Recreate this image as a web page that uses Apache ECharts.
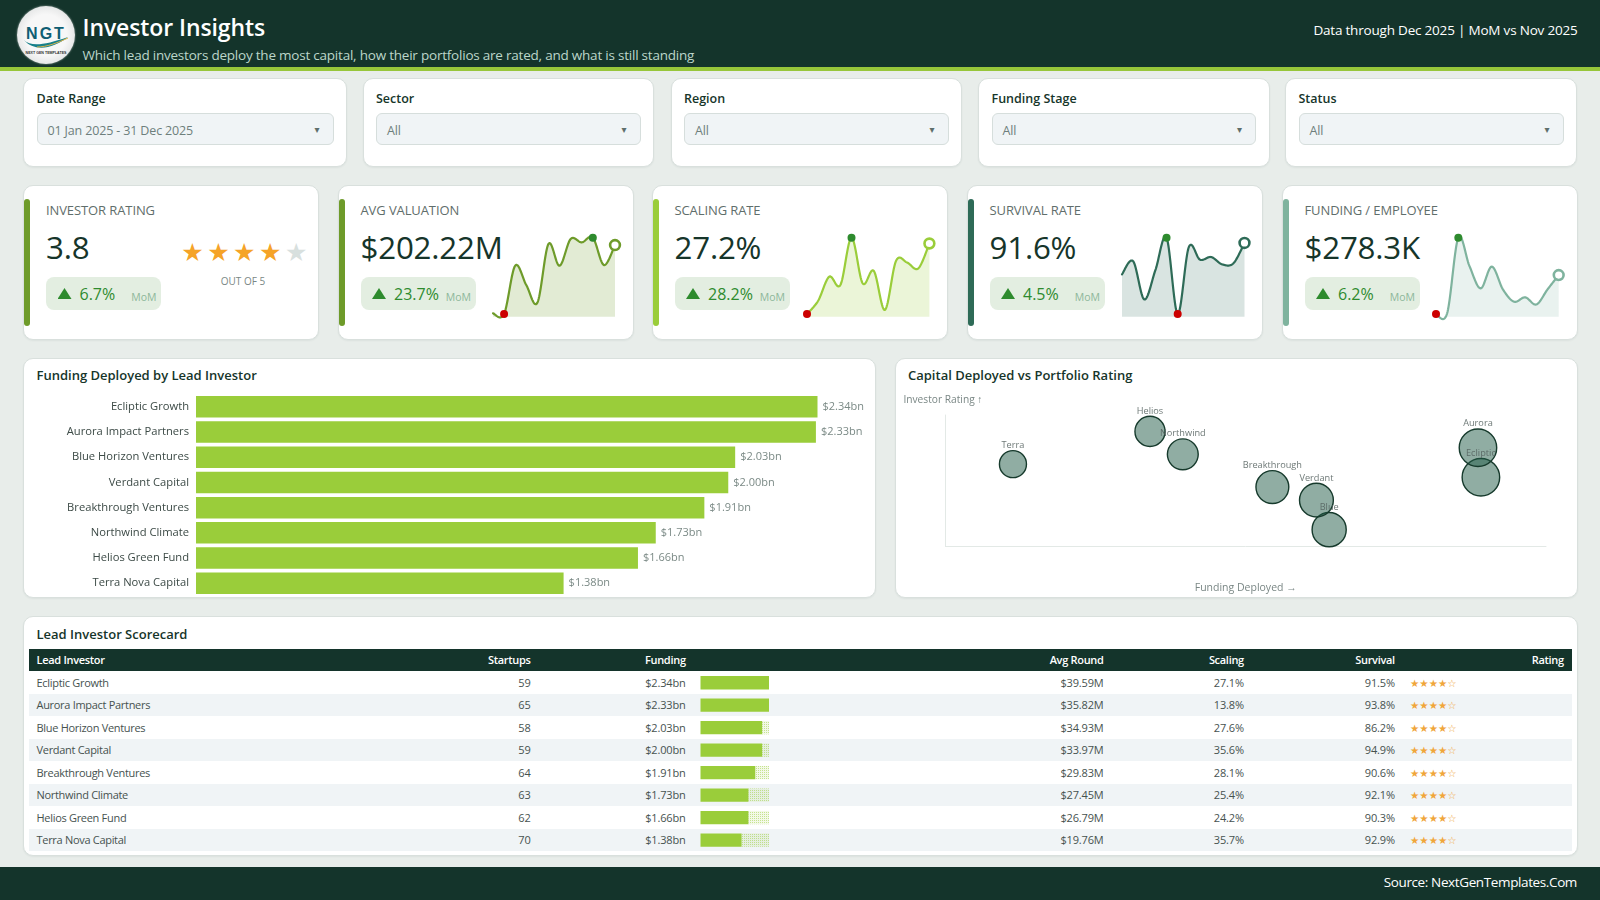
<!DOCTYPE html>
<html><head><meta charset="utf-8"><title>Investor Insights</title>
<script src="https://cdn.jsdelivr.net/npm/echarts@6/dist/echarts.min.js"></script>
<style>
html,body{margin:0;padding:0;background:#E8EDEA;width:1600px;height:900px;overflow:hidden;font-family:"Open Sans","Noto Sans",sans-serif;color:#16352A}
#page{position:relative;width:1600px;height:900px;overflow:hidden}
.box{position:absolute;box-sizing:border-box}
.card{background:#fff;border:1px solid #D9E0DD;border-radius:10px;box-shadow:0 1px 2px rgba(20,52,43,.06)}
.t{position:absolute;white-space:nowrap;transform:translateY(-50%);line-height:1.2}
.r{transform:translate(-100%,-50%)}
.c{transform:translate(-50%,-50%)}
#chart{position:absolute;left:0;top:0;width:1600px;height:900px;z-index:5;pointer-events:none}
</style></head><body><div id="page"></div><div id="chart"></div>
<script>
const investors=["Ecliptic Growth","Aurora Impact Partners","Blue Horizon Ventures","Verdant Capital","Breakthrough Ventures","Northwind Climate","Helios Green Fund","Terra Nova Capital"];
const shortNames=["Ecliptic","Aurora","Blue","Verdant","Breakthrough","Northwind","Helios","Terra"];
const fundingBn=[2.34,2.334,2.03,2.004,1.914,1.731,1.664,1.384];
const startups=[59,65,58,59,64,63,62,70];
const avgRoundM=[39.59,35.82,34.93,33.97,29.83,27.45,26.79,19.76];
const scalingPct=[27.1,13.8,27.6,35.6,28.1,25.4,24.2,35.7];
const survivalPct=[91.5,93.8,86.2,94.9,90.6,92.1,90.3,92.9];
const ratingPlot=[3.81,3.90,3.65,3.74,3.78,3.88,3.95,3.85];
const tableStars=["★★★★☆","★★★★☆","★★★★☆","★★★★☆","★★★★☆","★★★★☆","★★★★☆","★★★★☆"];
const months=["Jan","Feb","Mar","Apr","May","Jun","Jul","Aug","Sep","Oct","Nov","Dec"];
const sparkValuation=[70.0,68.7,162.2,124.8,90.6,204.2,162.2,213.8,207.4,216.4,163.5,202.2];
const sparkScaling=[10.2,13.4,19.2,17.2,28.6,17.6,20.6,11.2,23.0,22.6,21.2,27.2];
const sparkSurvival=[85.6,88.1,80.8,86.4,92.6,78.0,90.8,88.4,88.9,87.5,87.7,91.6];
const sparkFundingEmp=[234.1,235.0,320.6,288.5,263.2,287.8,262.0,248.1,253.0,245.0,262.0,278.3];
const kpiTitles=["INVESTOR RATING","AVG VALUATION","SCALING RATE","SURVIVAL RATE","FUNDING / EMPLOYEE"];
const kpiValues=["3.8","$202.22M","27.2%","91.6%","$278.3K"];
const kpiDeltas=["6.7%","23.7%","28.2%","4.5%","6.2%"];
const filterLabels=["Date Range","Sector","Region","Funding Stage","Status"];
const filterValues=["01 Jan 2025 - 31 Dec 2025","All","All","All","All"];
const tableHeaders=["Lead Investor","Startups","Funding","Avg Round","Scaling","Survival","Rating"];
const ratingStarsFilled=4;

const page=document.getElementById('page');
function box(x,y,w,h,css,cls){const d=document.createElement('div');d.className='box '+(cls||'');d.style.cssText=`left:${x}px;top:${y}px;width:${w}px;height:${h}px;${css||''}`;page.appendChild(d);return d}
function txt(x,y,s,css,cls){const d=document.createElement('div');d.className='t '+(cls||'');d.style.cssText=`left:${x}px;top:${y}px;${css||''}`;d.textContent=s;page.appendChild(d);return d}
const titleCss='font-size:13px;font-weight:600;color:#16352A';

// header
box(0,0,1600,67,'background:#14342B');
box(0,67,1600,3.5,'background:#97C63A');
const logo=box(17,6,58,58,'border-radius:50%;overflow:hidden;background:radial-gradient(circle at 50% 50%,#F7F7F7 50%,#CFD2D2 100%);box-shadow:0 0 2px rgba(255,255,255,.6)');
logo.innerHTML='<svg width="58" height="58" viewBox="0 0 58 58"><text x="29" y="33" text-anchor="middle" font-family="Liberation Sans" font-weight="700" font-size="16" letter-spacing="2" fill="#0F5E73">NGT</text><path d="M7 34 C14 41,28 39,51 31 C36 43,17 46,7 34Z" fill="#17808A"/><path d="M20 41 C30 41,40 37,51 32" stroke="#D9B24C" stroke-width="1" fill="none"/><text x="29" y="48" text-anchor="middle" font-family="Liberation Sans" font-weight="700" font-size="3.6" fill="#333">NEXT GEN TEMPLATES</text></svg>';
txt(82.5,27.5,'Investor Insights','color:#fff;font-size:23px;font-weight:600;letter-spacing:-.1px');
txt(82.5,54.5,'Which lead investors deploy the most capital, how their portfolios are rated, and what is still standing','color:#BCD6CA;font-size:13.5px;letter-spacing:-.22px');
txt(1577.5,30,'Data through Dec 2025 | MoM vs Nov 2025','color:#fff;font-size:13.5px;letter-spacing:-.2px','r');

// filters
const fCards=[[23,324],[362.5,291.5],[670.5,291.5],[978,291.5],[1285,292]];
fCards.forEach((c,i)=>{
  box(c[0],77.8,c[1],89,'','card');
  txt(c[0]+13.5,98,filterLabels[i],'font-size:12.5px;font-weight:600;color:#16352A');
  box(c[0]+13.5,113,c[1]-27,32,'background:#F0F4F6;border:1.5px solid #D6DEDC;border-radius:6px');
  txt(c[0]+24.5,130,filterValues[i],'font-size:12.5px;color:#6E7F7C;letter-spacing:-.15px');
  txt(c[0]+c[1]-32.5,130,'▾','font-size:10px;color:#5E6E6B;font-family:DejaVu Sans');
});

// KPI cards
const kX=[23,337.5,651.5,966.5,1281.5], kW=296;
const accents=['#6E9B2A','#6E9B2A','#9ACD3A','#2E6B57','#7FB39E'];
kX.forEach((x,i)=>{
  box(x,185,kW,154.5,'','card');
  box(x+1,199,6,127,`background:${accents[i]};border-radius:3px`);
  txt(x+23,211,kpiTitles[i],'font-size:13px;color:#5F6E6B;letter-spacing:-.1px');
  txt(x+23,247.5,kpiValues[i],'font-size:31.3px;font-weight:500;color:#16352A;letter-spacing:-.2px');
  box(x+23,277,115,33,'background:#E3EEE1;border-radius:8px');
  box(x+34.5,288,14,11,'background:#2E8B2E;clip-path:polygon(50% 0,100% 100%,0 100%)');
  txt(x+56.5,295,kpiDeltas[i],'font-size:16px;color:#2E8B2E');
  txt(x+133.5,297,'MoM','font-size:10.5px;color:#8DB79A','r');
});
// rating stars
for(let s=0;s<5;s++)txt(192.5+s*25.9,252.5,'★',`font-family:DejaVu Sans;font-size:25px;color:${s<ratingStarsFilled?'#F5A328':'#D8E0DE'}`,'c');
txt(243,280.5,'OUT OF 5','font-size:10px;color:#7A8785','c');

// chart cards
box(23,357.5,853,240,'','card');
box(894.5,357.5,683,240,'','card');
txt(36.5,376,'Funding Deployed by Lead Investor',titleCss);
txt(908,376,'Capital Deployed vs Portfolio Rating',titleCss);

// table
box(23,616,1554.5,240,'','card');
txt(36.5,635,'Lead Investor Scorecard',titleCss);
box(29,649,1542.5,22.3,'background:#14342B');
const headCols=[[36.5,'l'],[530.6,'r'],[685.7,'r'],[1103.6,'r'],[1243.9,'r'],[1394.9,'r'],[1563.8,'r']];
tableHeaders.forEach((h,i)=>txt(headCols[i][0],660.2,h,'font-size:11px;font-weight:600;color:#fff;letter-spacing:-.3px',headCols[i][1]=='r'?'r':''));
investors.forEach((n,i)=>{
  const top=671.3+i*22.47, y=top+11.4, st='font-size:11px;color:#46524F;letter-spacing:-.3px', num='font-size:11px;color:#46524F;letter-spacing:-.15px';
  if(i%2)box(29,top,1542.5,22.47,'background:#F0F4F6');
  txt(36.5,y,n,st);
  txt(530.6,y,String(startups[i]),num,'r');
  txt(685.7,y,'$'+fundingBn[i].toFixed(2)+'bn',num,'r');
  txt(1103.6,y,'$'+avgRoundM[i].toFixed(2)+'M',num,'r');
  txt(1243.9,y,scalingPct[i].toFixed(1)+'%',num,'r');
  txt(1394.9,y,survivalPct[i].toFixed(1)+'%',num,'r');
  txt(1410,y,tableStars[i],'font-family:DejaVu Sans;font-size:10.4px;color:#F0A63A');
});

// footer
box(0,867,1600,33,'background:#14342B');
txt(1577,881.5,'Source: NextGenTemplates.Com','color:#fff;font-size:13.5px;letter-spacing:-.38px','r');

// charts
const grids=[],xA=[],yA=[],series=[];
function addGrid(g,x,y){grids.push(g);xA.push(Object.assign({gridIndex:grids.length-1},x));yA.push(Object.assign({gridIndex:grids.length-1},y));return grids.length-1}
const hidden={show:false};

// bar chart
let gi=addGrid({left:196,top:394.2,width:664,height:201.7},
  {type:'value',min:0,max:2.5,show:false,splitLine:hidden},
  {type:'category',inverse:true,data:investors,axisLine:hidden,axisTick:hidden,axisLabel:{color:'#3C4A46',fontSize:11.2,margin:7,fontFamily:'Open Sans'}});
series.push({type:'bar',xAxisIndex:gi,yAxisIndex:gi,data:fundingBn,barWidth:21.5,silent:true,animation:false,itemStyle:{color:'#9ACD3A'},
  label:{show:true,position:'right',distance:5,color:'#7B8A86',fontSize:11,fontFamily:'Open Sans',formatter:p=>'$'+p.value.toFixed(2)+'bn'}});

// bubble chart
gi=addGrid({left:945.4,top:415,width:600.6,height:131},
  {type:'value',min:1.246,max:2.473,axisLabel:hidden,axisTick:hidden,splitLine:hidden,axisLine:{show:true,onZero:false,lineStyle:{color:'#E3E9E6',width:1}},
   name:'Funding Deployed →',nameLocation:'middle',nameGap:37,nameTextStyle:{color:'#7A8785',fontSize:10.5,fontFamily:'Open Sans'}},
  {type:'value',min:3.6,max:4.0,axisLabel:hidden,axisTick:hidden,splitLine:hidden,axisLine:{show:true,onZero:false,lineStyle:{color:'#E3E9E6',width:1}},
   name:'Investor Rating ↑',nameLocation:'end',nameGap:10,nameTextStyle:{color:'#7A8785',fontSize:10.2,align:'left',padding:[0,0,0,-42],fontFamily:'Open Sans'}});
series.push({type:'scatter',xAxisIndex:gi,yAxisIndex:gi,silent:true,animation:false,clip:false,
  data:shortNames.map((n,i)=>({name:n,value:[fundingBn[i],ratingPlot[i]]})),
  symbolSize:v=>11.8+11*v[0],
  itemStyle:{color:'rgba(33,92,72,.5)',borderColor:'#163A2C',borderWidth:1.4,opacity:1},
  label:{show:true,position:'top',distance:0,formatter:'{b}',color:'rgba(85,98,95,.85)',fontSize:9.2,fontFamily:'Open Sans'},
  labelLayout:{hideOverlap:false}});

// sparklines: a Catmull-Rom spline through the library's own coordinates
function sparkRender(v,line,fill){
  const mx=Math.max(...v),mn=Math.min(...v),last=v.length-1;
  return function(params,api){
    if(params.dataIndex!==0)return null;
    const p=v.map((y,i)=>api.coord([i,y]));
    const base=api.coord([0,api.value(2)])[1];
    const curve=[];
    for(let i=0;i<last;i++){
      const a=p[Math.max(i-1,0)],b=p[i],c=p[i+1],d=p[Math.min(i+2,last)];
      const c1=[b[0]+(c[0]-a[0])/6,b[1]+(c[1]-a[1])/6],c2=[c[0]-(d[0]-b[0])/6,c[1]-(d[1]-b[1])/6];
      for(let k=0;k<24;k++){const t=k/24,u=1-t;
        curve.push([u*u*u*b[0]+3*u*u*t*c1[0]+3*u*t*t*c2[0]+t*t*t*c[0],u*u*u*b[1]+3*u*u*t*c1[1]+3*u*t*t*c2[1]+t*t*t*c[1]]);}
    }
    curve.push(p[last]);
    const area=curve.map(q=>[q[0],Math.min(q[1],base)]);
    area.push([p[last][0],base],[p[0][0],base]);
    const kids=[
      {type:'polygon',shape:{points:area},style:{fill:fill},silent:true},
      {type:'polyline',shape:{points:curve},style:{stroke:line,lineWidth:2.2,fill:null,lineJoin:'round',lineCap:'round'},silent:true}
    ];
    const dot=(i,r,st)=>kids.push({type:'circle',shape:{cx:p[i][0],cy:p[i][1],r:r},style:st,silent:true});
    dot(v.indexOf(mx),4,{fill:'#2E8B2E'});
    dot(v.indexOf(mn),4,{fill:'#CC0000'});
    dot(last,4.9,{fill:'#fff',stroke:line,lineWidth:2.6});
    return {type:'group',children:kids};
  };
}
const sparks=[[493,122,sparkValuation,'#6E9B2A','rgba(110,155,42,.2)'],[807,122.4,sparkScaling,'#9ACD3A','rgba(154,205,58,.2)'],[1122,122.5,sparkSurvival,'#2E6B57','rgba(46,107,87,.18)'],[1436,122.7,sparkFundingEmp,'#7FB39E','rgba(127,179,158,.17)']];
sparks.forEach(s=>{
  const v=s[2],mx=Math.max(...v),mn=Math.min(...v),floor=mn-(mx-mn)*8/229;
  const g=addGrid({left:s[0],top:237.7,width:s[1],height:79},
    {type:'category',data:months,boundaryGap:false,show:false},
    {type:'value',min:floor,max:mx,show:false,splitLine:hidden});
  series.push({type:'custom',xAxisIndex:g,yAxisIndex:g,silent:true,animation:false,clip:false,
    data:v.map((y,i)=>[i,y,floor]),encode:{x:0,y:1},renderItem:sparkRender(v,s[3],s[4])});
});

// table in-cell bars (ten block REPT style)
const cells=fundingBn.map(f=>Math.round(f/Math.max(...fundingBn)*10));
gi=addGrid({left:700.5,top:671.5,width:68.5,height:179.8},
  {type:'value',min:0,max:10,show:false,splitLine:hidden},
  {type:'category',inverse:true,data:investors,show:false});
series.push({type:'bar',xAxisIndex:gi,yAxisIndex:gi,stack:'cell',barWidth:13.3,silent:true,animation:false,data:cells,itemStyle:{color:'#9ACD3A'}});
series.push({type:'bar',xAxisIndex:gi,yAxisIndex:gi,stack:'cell',barWidth:13.3,silent:true,animation:false,data:cells.map(c=>10-c),
  itemStyle:{color:'rgba(154,205,58,.12)',decal:{symbol:'rect',color:'rgba(154,205,58,.5)',symbolSize:1,dashArrayX:[1,1],dashArrayY:[1,1],rotation:0}}});

const chart=echarts.init(document.getElementById('chart'),null,{width:1600,height:900});
chart.setOption({animation:false,backgroundColor:'transparent',grid:grids,xAxis:xA,yAxis:yA,series});
</script></body></html>
